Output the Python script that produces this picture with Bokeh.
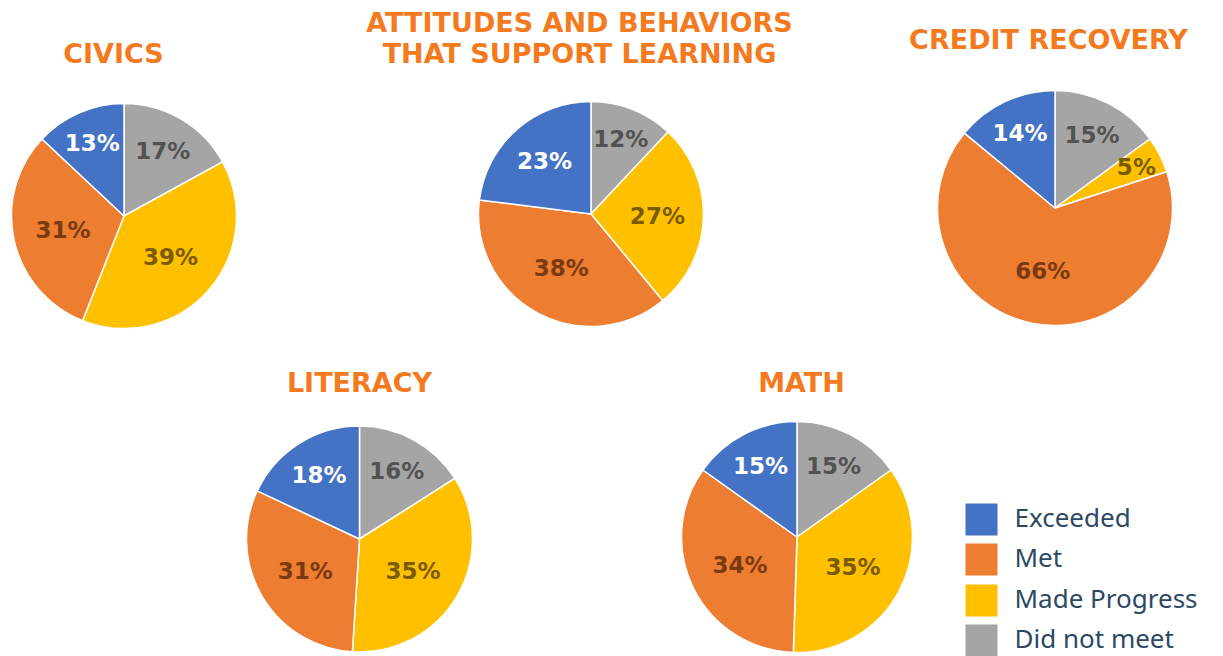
import math
from bokeh.plotting import figure
from bokeh.models import Range1d, ColumnDataSource
from bokeh.core.properties import value
from bokeh.embed import file_html
from bokeh.resources import INLINE

# ---- data ----
categories = ["Did not meet", "Made Progress", "Met", "Exceeded"]
legend_order = ["Exceeded", "Met", "Made Progress", "Did not meet"]
titles = ["CIVICS", "ATTITUDES AND BEHAVIORS\nTHAT SUPPORT LEARNING", "CREDIT RECOVERY", "LITERACY", "MATH"]
civics = [17, 39, 31, 13]
attitudes = [12, 27, 38, 23]
credit_recovery = [15, 5, 66, 14]
literacy = [16, 35, 31, 18]
math_vals = [15, 35, 34, 15]
series = [civics, attitudes, credit_recovery, literacy, math_vals]

# ---- styles ----
fill_colors = {"Exceeded": "#4472C4", "Met": "#ED7D31", "Made Progress": "#FFC000", "Did not meet": "#A5A5A5"}
label_colors = {"Exceeded": "#FFFFFF", "Met": "#7A3A10", "Made Progress": "#7A5C00", "Did not meet": "#525252"}
TITLE_COLOR = "#F47A20"
LEGEND_TEXT = "#2C4A62"
HEAVY_FONT = value("DejaVu Sans")
W, H = 1223, 656

# layout (reference pixel coords: x, y from top)
centers = [(123.5, 215.5), (590.5, 213.5), (1054.5, 207.5), (359, 538.5), (796.5, 536.5)]
radii = [112.5, 112.5, 117.5, 113, 115.5]
title_pos = [(113, 53), (579, 37), (1048, 39), (359, 382), (801, 382)]

p = figure(width=W, height=H, x_range=Range1d(0, W), y_range=Range1d(0, H),
           output_backend="svg", toolbar_location=None, min_border=0,
           x_axis_location=None, y_axis_location=None)
p.grid.visible = False
p.outline_line_color = None
p.background_fill_color = "white"
p.border_fill_color = "white"

def Y(yref):
    return H - yref

for vals, (cx, cy), r, title, (tx, ty) in zip(series, centers, radii, titles, title_pos):
    total = float(sum(vals))
    starts, ends, cols, lx, ly, ltxt, lcol = [], [], [], [], [], [], []
    cum = 0.0
    for cat, v in zip(categories, vals):
        f0 = cum / total
        f1 = (cum + v) / total
        cum += v
        a0 = math.pi / 2 - 2 * math.pi * f0
        a1 = math.pi / 2 - 2 * math.pi * f1
        starts.append(a0)
        ends.append(a1)
        cols.append(fill_colors[cat])
        mid = (a0 + a1) / 2
        frac = v / total
        d = r * max(0.55, 0.82 - 0.85 * frac)
        lx.append(cx + d * math.cos(mid))
        ly.append(Y(cy) + d * math.sin(mid))
        ltxt.append(f"{v}%")
        lcol.append(label_colors[cat])
    src = ColumnDataSource(dict(x=[cx] * 4, y=[Y(cy)] * 4, s=starts, e=ends, c=cols))
    p.wedge(x="x", y="y", radius=r, start_angle="s", end_angle="e", direction="clock",
            fill_color="c", line_color="white", line_width=1.5, source=src)
    lsrc = ColumnDataSource(dict(x=lx, y=ly, t=ltxt, c=lcol))
    p.text(x="x", y="y", text="t", text_color="c", source=lsrc, text_font=HEAVY_FONT,
           text_font_size="23px", text_font_style="bold", text_align="center", text_baseline="middle")
    lines = title.split("\n")
    n = len(lines)
    for i, line in enumerate(lines):
        yy = ty + (i - (n - 1) / 2) * 31
        p.text(x=[tx], y=[Y(yy)], text=[line], text_color=TITLE_COLOR, text_font=HEAVY_FONT,
               text_font_size="27px", text_font_style="bold", text_align="center", text_baseline="middle")

# legend
leg_y = [519, 559, 600, 640]
p.rect(x=[981] * 4, y=[Y(v) for v in leg_y], width=32, height=32,
       fill_color=[fill_colors[c] for c in legend_order], line_color=None)
p.text(x=[1014] * 4, y=[Y(v - 3) for v in leg_y], text=legend_order, text_color=LEGEND_TEXT,
       text_font=value("Noto Sans"), text_font_size="26px", text_align="left", text_baseline="middle")

open("out.html", "w").write(file_html(p, INLINE))
